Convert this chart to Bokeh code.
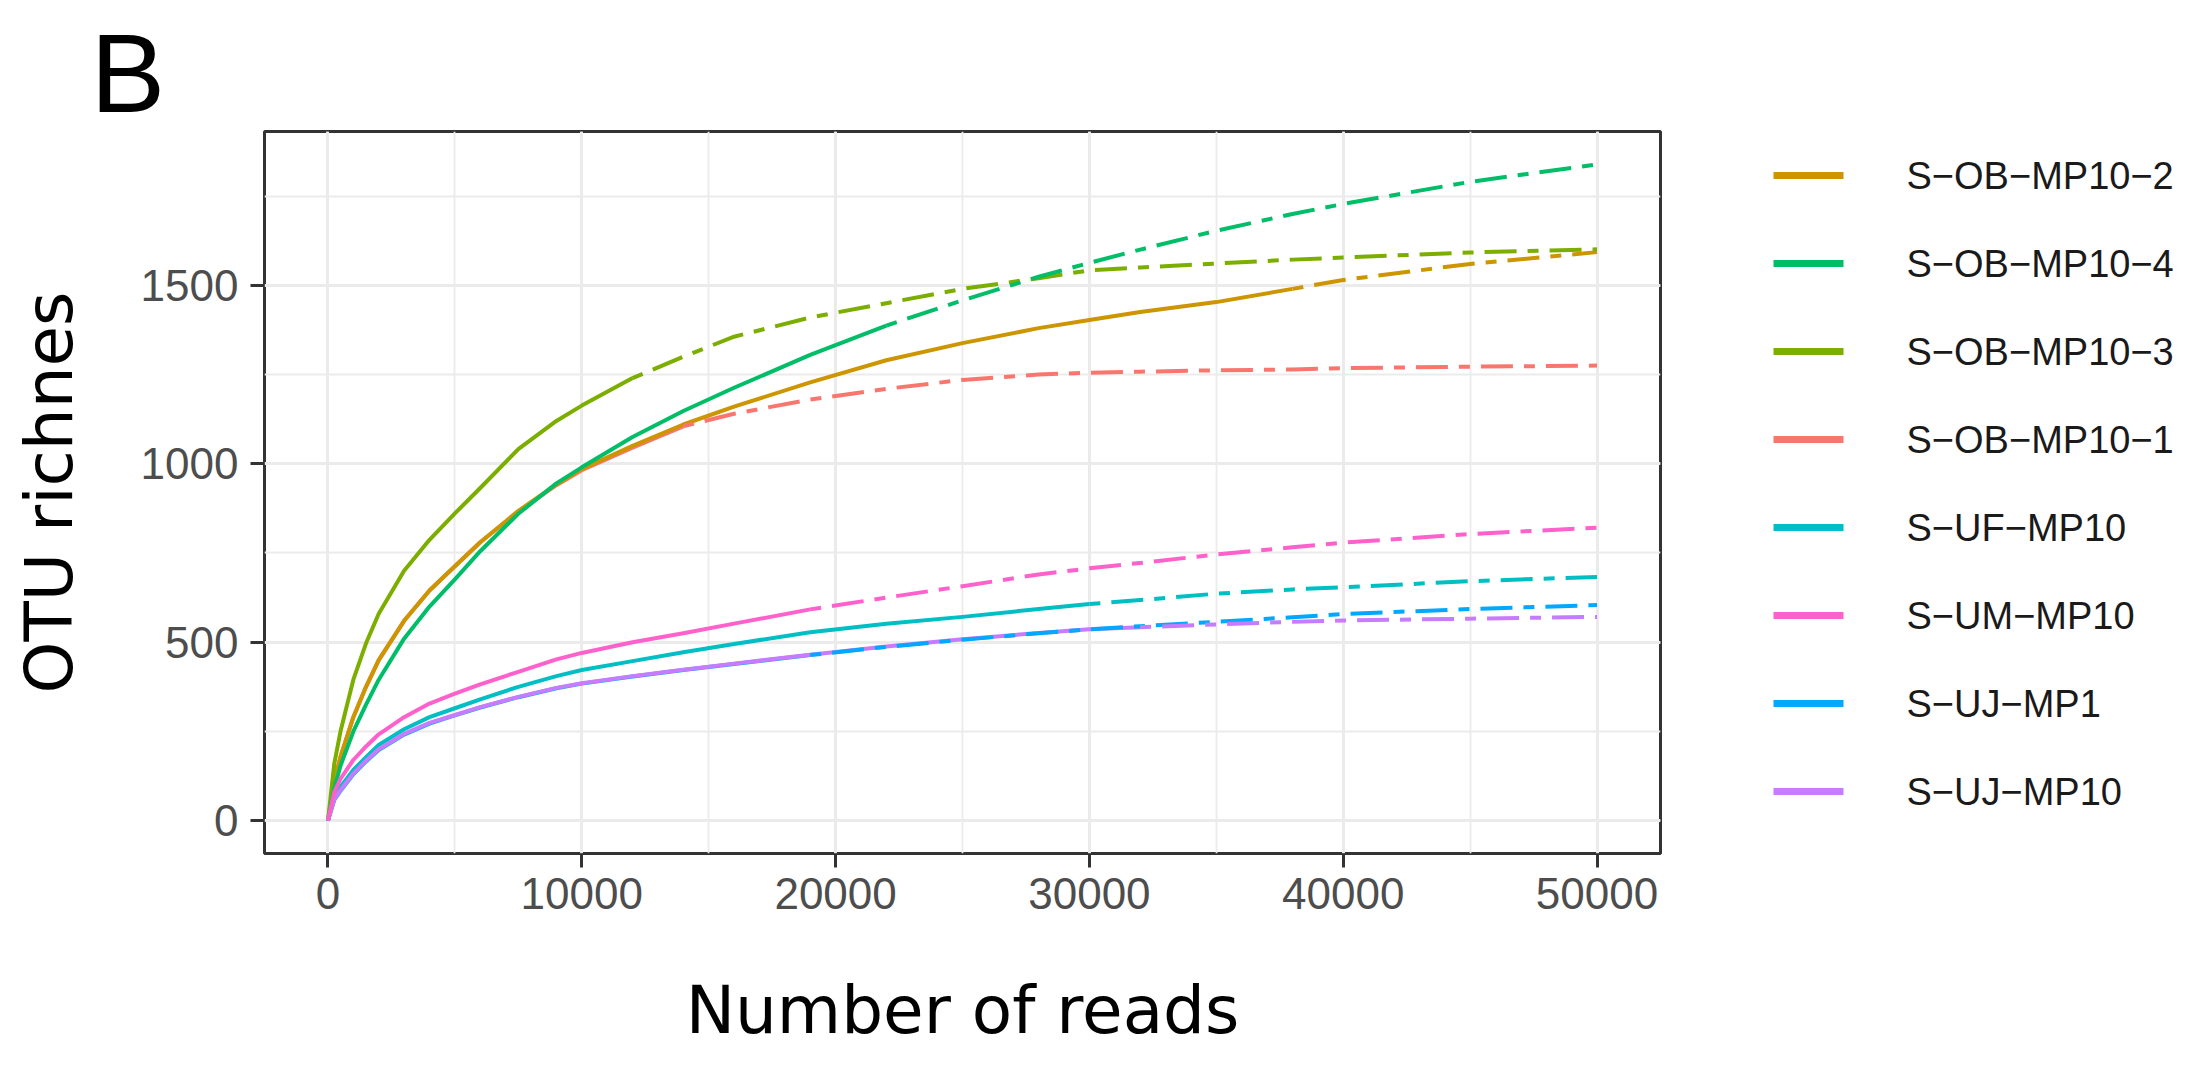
from bokeh.plotting import figure
from bokeh.layouts import row
from bokeh.models import Title, SingleIntervalTicker, Range1d, NumeralTickFormatter, ColumnDataSource
from bokeh.core.properties import value
from bokeh.embed import file_html
from bokeh.resources import INLINE

# ---- data ----
reads = [0, 250, 500, 1000, 1500, 2000, 3000, 4000, 5000, 6000, 7500, 9000, 10000, 12000, 14000,
         16000, 19000, 22000, 25000, 28000, 30000, 32000, 35000, 38000, 40000, 45000, 50000]

ob_mp10_1 = [0, 110, 180, 290, 375, 450, 560, 645, 713, 780, 866, 940, 982, 1045, 1105,
             1140, 1180, 1210, 1235, 1250, 1255, 1258, 1262, 1264, 1268, 1272, 1275]
ob_mp10_2 = [0, 110, 180, 290, 375, 450, 560, 645, 713, 780, 868, 942, 985, 1050, 1110,
             1160, 1228, 1290, 1338, 1380, 1403, 1425, 1453, 1490, 1515, 1560, 1593]
ob_mp10_3 = [0, 160, 252, 395, 497, 580, 700, 787, 861, 932, 1041, 1120, 1163, 1240, 1300,
             1356, 1410, 1450, 1490, 1520, 1542, 1550, 1561, 1572, 1578, 1592, 1601]
ob_mp10_4 = [0, 90, 155, 250, 325, 395, 510, 600, 676, 755, 860, 945, 990, 1075, 1148,
             1213, 1305, 1387, 1458, 1524, 1563, 1600, 1653, 1700, 1728, 1790, 1839]
uf_mp10 = [0, 65, 95, 142, 178, 212, 256, 290, 315, 340, 375, 405, 422, 447, 472,
           495, 528, 552, 571, 593, 607, 618, 636, 648, 654, 671, 683]
uj_mp1 = [0, 58, 84, 130, 166, 198, 241, 272, 295, 317, 346, 371, 384, 404, 422,
          439, 464, 487, 507, 525, 536, 545, 557, 570, 579, 593, 604]
uj_mp10 = [0, 60, 86, 132, 168, 200, 243, 274, 296, 318, 347, 372, 385, 405, 423,
           440, 465, 488, 508, 526, 536, 542, 550, 557, 561, 566, 571]
um_mp10 = [0, 80, 118, 170, 208, 242, 290, 328, 356, 382, 417, 452, 470, 500, 525,
           552, 592, 625, 657, 690, 707, 722, 746, 766, 779, 803, 821]

# sample names (drawing order = factor level order)
names = ["S\u2212OB\u2212MP10\u22121", "S\u2212OB\u2212MP10\u22122", "S\u2212OB\u2212MP10\u22123", "S\u2212OB\u2212MP10\u22124",
         "S\u2212UF\u2212MP10", "S\u2212UJ\u2212MP1", "S\u2212UJ\u2212MP10", "S\u2212UM\u2212MP10"]
values = [ob_mp10_1, ob_mp10_2, ob_mp10_3, ob_mp10_4, uf_mp10, uj_mp1, uj_mp10, um_mp10]
observed = [14000, 38000, 12000, 22000, 30000, 19000, 32000, 19000]
colors = ["#F8766D", "#CD9600", "#7CAE00", "#00BE67", "#00BFC4", "#00A9FF", "#C77CFF", "#FF61CC"]
legend_order = [1, 3, 2, 0, 4, 7, 5, 6]

H = 1060
W1 = 1740
W2 = 460
TOP, BOTTOM = 131, 853
p = figure(width=W1, height=H, output_backend="svg", toolbar_location=None,
           min_border_left=264, min_border_right=W1 - 1660, min_border_top=TOP, min_border_bottom=H - BOTTOM,
           x_range=Range1d(-2500, 52500), y_range=Range1d(-92, 1931))
p.background_fill_color = "white"
p.border_fill_color = "white"
p.outline_line_color = "#333333"
p.outline_line_width = 3

DASH = "11 11 32 11"

# solid (interpolated) parts first, then extrapolated parts
for vals, n, c in zip(values, observed, colors):
    xs = [x for x in reads if x <= n]
    ys = [y for x, y in zip(reads, vals) if x <= n]
    p.line(xs, ys, line_color=c, line_width=4, line_join="round")
for vals, n, c in zip(values, observed, colors):
    xs = [x for x in reads if x >= n]
    ys = [y for x, y in zip(reads, vals) if x >= n]
    p.line(xs, ys, line_color=c, line_width=4, line_dash=DASH, line_join="round")

# axes
p.xaxis.ticker = SingleIntervalTicker(interval=10000, num_minor_ticks=2)
p.yaxis.ticker = SingleIntervalTicker(interval=500, num_minor_ticks=2)
p.xaxis.formatter = NumeralTickFormatter(format="0")
p.yaxis.formatter = NumeralTickFormatter(format="0")
for ax in (p.xaxis, p.yaxis):
    ax.axis_line_color = None
    ax.major_tick_line_color = "#333333"
    ax.major_tick_line_width = 3
    ax.major_tick_out = 14
    ax.major_tick_in = 0
    ax.minor_tick_line_color = None
    ax.major_label_text_font = "Liberation Sans"
    ax.major_label_text_font_size = "44px"
    ax.major_label_text_color = "#4D4D4D"
    ax.axis_label_text_font = "DejaVu Sans"
    ax.axis_label_text_font_style = "normal"
    ax.axis_label_text_color = "black"
p.xaxis.axis_label = "Number of reads"
p.yaxis.axis_label = "OTU richnes"
p.xaxis.axis_label_text_font_size = "66px"
p.yaxis.axis_label_text_font_size = "66px"
p.xaxis.major_label_standoff = 10
p.yaxis.major_label_standoff = 12
p.xaxis.axis_label_standoff = 60
p.yaxis.axis_label_standoff = 50

for g in (p.xgrid, p.ygrid):
    g.grid_line_color = "#EBEBEB"
    g.grid_line_width = 3
    g.minor_grid_line_color = "#EBEBEB"
    g.minor_grid_line_width = 1.8

p.add_layout(Title(text="B", align="left", offset=-174, standoff=-8,
                   text_font="Liberation Sans", text_font_size="112px",
                   text_font_style="normal", text_color="black"), "above")

# ---- legend panel: its frame is aligned with the main frame (rows TOP..BOTTOM),
# so the y range is set to page pixels, growing downwards ----
lg = figure(width=W2, height=H, output_backend="svg", toolbar_location=None,
            x_range=Range1d(0, W2), y_range=Range1d(BOTTOM, TOP),
            x_axis_type=None, y_axis_type=None, min_border=0)
lg.outline_line_color = None
lg.background_fill_color = "white"
lg.border_fill_color = "white"
lg.xgrid.visible = False
lg.ygrid.visible = False

row_y = [175 + 88 * k for k in range(len(legend_order))]
leg_src = ColumnDataSource(dict(
    x0=[33] * len(legend_order), x1=[103] * len(legend_order), y=row_y,
    tx=[166] * len(legend_order),
    label=[names[i] for i in legend_order],
    color=[colors[i] for i in legend_order]))
lg.segment(x0="x0", y0="y", x1="x1", y1="y", line_color="color", line_width=7, source=leg_src)
lg.text(x="tx", y="y", text="label", source=leg_src, text_font=value("Liberation Sans"),
        text_font_size=value("38px"), text_color="#1A1A1A", text_baseline="middle", text_align="left")

layout = row(p, lg)
open("out.html", "w").write(file_html(layout, INLINE))
